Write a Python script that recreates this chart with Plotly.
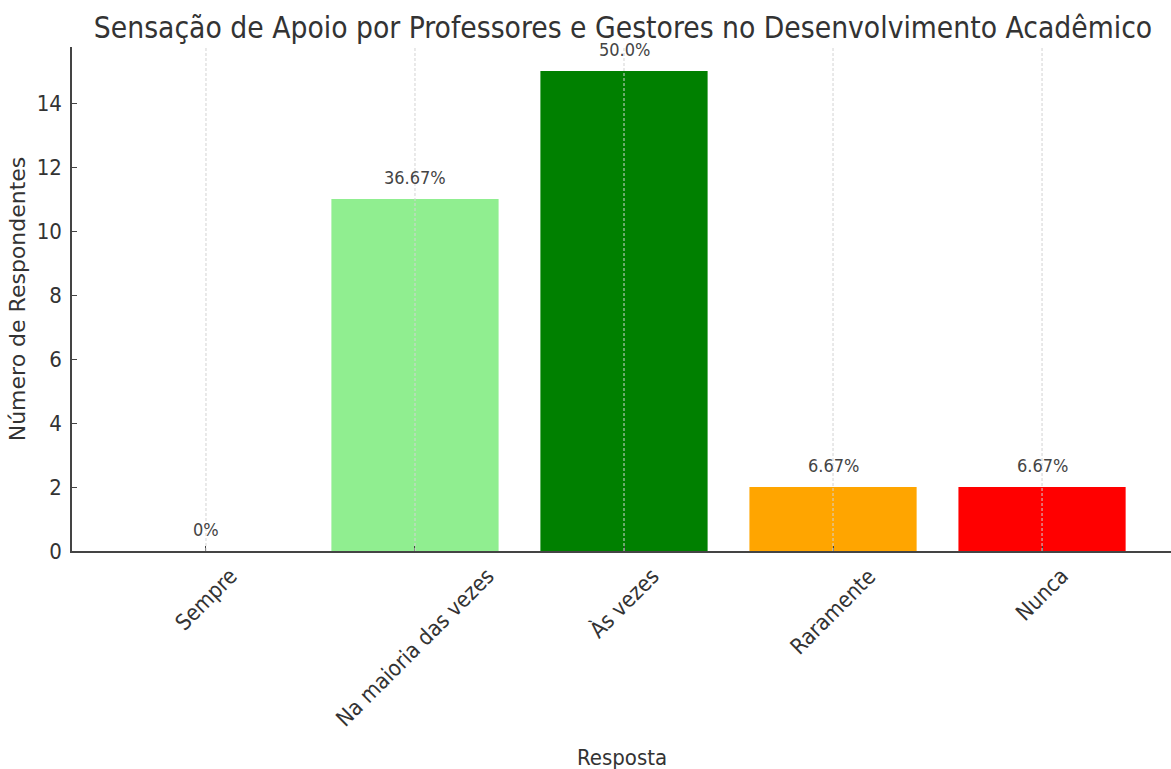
import plotly.graph_objects as go

# dados
categorias = ["Sempre", "Na maioria das vezes", "Às vezes", "Raramente", "Nunca"]
respondentes = [0, 11, 15, 2, 2]
rotulos_pct = ["0%", "36.67%", "50.0%", "6.67%", "6.67%"]
cores = ["darkgreen", "#90EE90", "#008000", "#FFA500", "#FF0000"]

titulo = "Sensação de Apoio por Professores e Gestores no Desenvolvimento Acadêmico"
y_ticks = [0, 2, 4, 6, 8, 10, 12, 14]

FONTE = "DejaVu Sans Condensed, DejaVu Sans"
COR_TXT = "#333333"

fig = go.Figure()
fig.add_trace(go.Bar(x=list(range(len(categorias))), y=respondentes, width=0.8,
                     marker=dict(color=cores, line=dict(width=0)),
                     hoverinfo="skip", showlegend=False))

# grade vertical tracejada por cima das barras
for i in range(len(categorias)):
    fig.add_shape(type="line", x0=i, x1=i, y0=0, y1=1, xref="x", yref="paper",
                  line=dict(color="#d3d3d3", width=1, dash="3px,2px"), layer="above")

# rotulos de porcentagem
for i, (v, t) in enumerate(zip(respondentes, rotulos_pct)):
    fig.add_annotation(x=i, y=v, text=t, showarrow=False, xanchor="center",
                       yanchor="middle", yshift=22,
                       font=dict(family=FONTE, size=18, color="#444444"))

# rotulos do eixo x girados (centralizados no tick, como no matplotlib)
for i, c in enumerate(categorias):
    fig.add_annotation(x=i, y=0, text=c, showarrow=False, textangle=-45,
                       xanchor="center", yanchor="top", yshift=-10,
                       font=dict(family=FONTE, size=22, color=COR_TXT))

fig.add_annotation(x=0.5, y=-(758 - 551) / 504, xref="paper", yref="paper",
                   text="Resposta", showarrow=False, xanchor="center", yanchor="middle",
                   font=dict(family=FONTE, size=22, color=COR_TXT))

fig.update_layout(
    width=1171, height=769,
    paper_bgcolor="white", plot_bgcolor="white",
    margin=dict(l=72, r=0, t=47, b=218),
    title=dict(text=titulo, x=623 / 1171, xref="container", xanchor="center",
               y=1 - 28 / 769, yanchor="middle",
               font=dict(family=FONTE, size=29.7, color=COR_TXT)),
    xaxis=dict(range=[-0.641, 4.617], tickvals=list(range(len(categorias))),
               showticklabels=False, showgrid=False, zeroline=False,
               showline=True, linecolor="#444444", linewidth=1.5,
               ticks="inside", ticklen=5, tickcolor="#444444", layer="above traces"),
    yaxis=dict(range=[0, 15.75], tickvals=y_ticks, showgrid=False, zeroline=False,
               showline=True, linecolor="#444444", linewidth=1.5,
               ticks="inside", ticklen=5, tickcolor="#444444",
               tickfont=dict(family=FONTE, size=22, color=COR_TXT),
               ticklabelstandoff=4,
               title=dict(text="Número de Respondentes", standoff=5,
                          font=dict(family="DejaVu Sans", size=22, color=COR_TXT))),
)

# tira a margem padrao do body para a figura comecar no canto
fig.write_html("out.html", config={"displayModeBar": False},
               post_script="document.body.style.margin='0';")
